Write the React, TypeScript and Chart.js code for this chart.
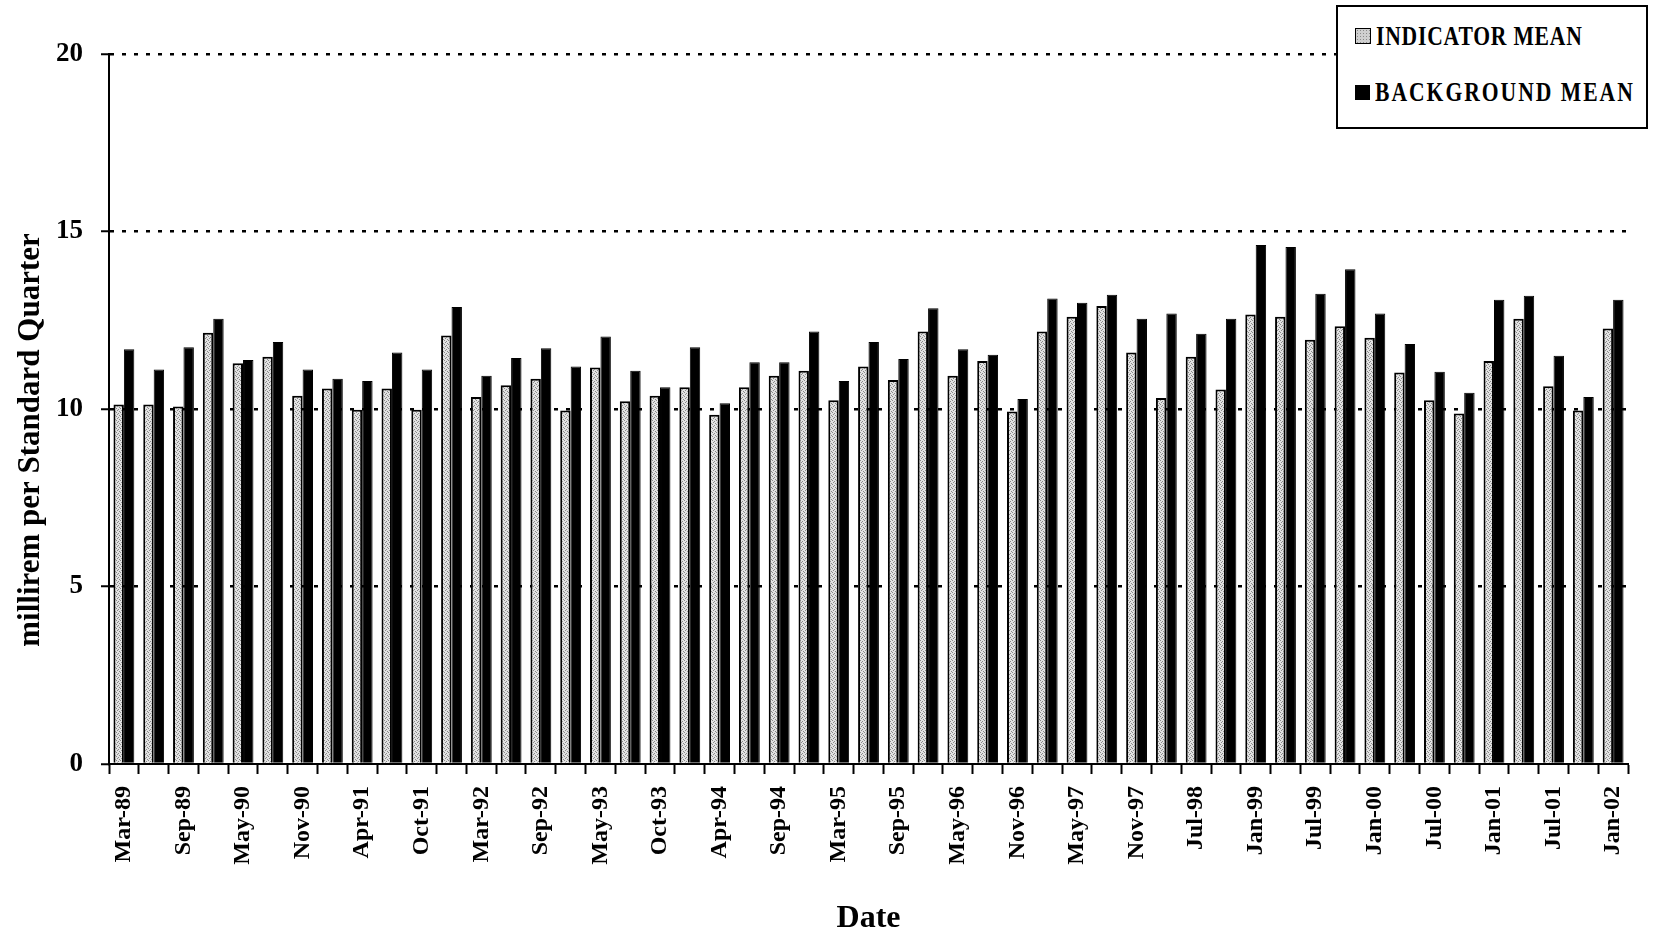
import React, { useEffect, useRef } from "react";
import { Chart, registerables } from "chart.js";

Chart.register(...registerables);

const labels = [
  "Mar-89", "Jun-89", "Sep-89", "Jan-90", "May-90", "Aug-90", "Nov-90", "Feb-91", "Apr-91", "Jul-91",
  "Oct-91", "Jan-92", "Mar-92", "Jun-92", "Sep-92", "Jan-93", "May-93", "Aug-93", "Oct-93", "Jan-94",
  "Apr-94", "Jul-94", "Sep-94", "Dec-94", "Mar-95", "Jun-95", "Sep-95", "Jan-96", "May-96", "Aug-96",
  "Nov-96", "Feb-97", "May-97", "Aug-97", "Nov-97", "Mar-98", "Jul-98", "Oct-98", "Jan-99", "Apr-99",
  "Jul-99", "Oct-99", "Jan-00", "Apr-00", "Jul-00", "Oct-00", "Jan-01", "Apr-01", "Jul-01", "Oct-01",
  "Jan-02",
];

const indicatorMean = [
  10.13, 10.13, 10.07, 12.15, 11.29, 11.47, 10.37, 10.58, 9.98, 10.58,
  9.98, 12.07, 10.34, 10.67, 10.85, 9.96, 11.17, 10.22, 10.37, 10.61,
  9.84, 10.61, 10.94, 11.08, 10.25, 11.2, 10.82, 12.18, 10.94, 11.35,
  9.93, 12.18, 12.6, 12.9, 11.59, 10.31, 11.47, 10.55, 12.66, 12.6,
  11.95, 12.33, 12.01, 11.03, 10.25, 9.87, 11.35, 12.54, 10.64, 9.96,
  12.27,
];

const backgroundMean = [
  11.68, 11.11, 11.74, 12.54, 11.38, 11.89, 11.11, 10.85, 10.79, 11.59,
  11.11, 12.87, 10.94, 11.44, 11.71, 11.2, 12.04, 11.08, 10.61, 11.74,
  10.16, 11.32, 11.32, 12.18, 10.79, 11.89, 11.41, 12.84, 11.68, 11.53,
  10.28, 13.11, 12.99, 13.22, 12.54, 12.69, 12.12, 12.54, 14.62, 14.56,
  13.25, 13.94, 12.69, 11.83, 11.05, 10.46, 13.08, 13.19, 11.5, 10.34,
  13.08,
];

const yTicks = [0, 5, 10, 15, 20];

const seriesNames = ["INDICATOR MEAN", "BACKGROUND MEAN"];

const FONT = "'Liberation Serif', 'Times New Roman', serif";

export default function App() {
  const canvasRef = useRef<HTMLCanvasElement | null>(null);

  useEffect(() => {
    const canvas = canvasRef.current;
    if (!canvas) return;
    const ctx = canvas.getContext("2d")!;

    const pc = document.createElement("canvas");
    pc.width = 4;
    pc.height = 4;
    const p = pc.getContext("2d")!;
    p.fillStyle = "#e2e2e2";
    p.fillRect(0, 0, 4, 4);
    p.fillStyle = "#8a8a8a";
    [[0, 0], [2, 1], [1, 2], [3, 3]].forEach(([x, y]) => p.fillRect(x, y, 1, 1));
    const pattern = ctx.createPattern(pc, "repeat")!;

    const chart = new Chart(ctx, {
      type: "bar",
      data: {
        labels,
        datasets: [
          {
            label: seriesNames[0],
            data: indicatorMean,
            backgroundColor: pattern,
            borderColor: "#000",
            borderWidth: 2,
            categoryPercentage: 0.7,
            barPercentage: 1.0,
          },
          {
            label: seriesNames[1],
            data: backgroundMean,
            backgroundColor: "#000",
            borderColor: "#000",
            borderWidth: 1,
            categoryPercentage: 0.7,
            barPercentage: 1.0,
          },
        ],
      },
      options: {
        responsive: false,
        animation: false,
        devicePixelRatio: 1,
        layout: { padding: { left: 0, right: 9, top: 54, bottom: 0 } },
        plugins: {
          legend: { display: false },
          tooltip: { enabled: false },
        },
        scales: {
          x: {
            offset: true,
            grid: {
              offset: true,
              drawOnChartArea: false,
              drawTicks: true,
              tickLength: 10,
              tickColor: "#000",
              tickWidth: 2,
              tickBorderDash: [],
            },
            border: { display: true, color: "#000", width: 2 },
            ticks: {
              autoSkip: false,
              minRotation: 90,
              maxRotation: 90,
              padding: 12,
              color: "#000",
              font: { family: FONT, size: 24, weight: "bold" },
              callback: (_v: any, i: number) => (i % 2 === 0 ? labels[i] : ""),
            },
            title: {
              display: true,
              text: "Date",
              color: "#000",
              font: { family: FONT, size: 32, weight: "bold" },
              padding: { top: 0, bottom: 0 },
            },
            afterFit: (scale: any) => {
              scale.height = 174;
            },
          },
          y: {
            min: 0,
            max: 20,
            afterBuildTicks: (scale: any) => {
              scale.ticks = yTicks.map((v) => ({ value: v }));
            },
            grid: {
              drawOnChartArea: true,
              color: (c: any) => (c.tick && c.tick.value === 0 ? "rgba(0,0,0,0)" : "#000"),
              lineWidth: 2.5,
              borderDash: [4, 8],
              tickLength: 8,
              tickColor: "#000",
              tickWidth: 2,
              tickBorderDash: [],
            },
            border: { display: true, color: "#000", width: 2, dash: [4, 8] },
            ticks: {
              padding: 18,
              color: "#000",
              font: { family: FONT, size: 27, weight: "bold" },
            },
            title: {
              display: true,
              text: "millirem per Standard Quarter        ",
              color: "#000",
              font: { family: FONT, size: 31, weight: "bold" },
              padding: { top: 12, bottom: 0 },
            },
            afterFit: (scale: any) => {
              scale.width = 109;
            },
          },
        },
      },
    } as any);

    return () => chart.destroy();
  }, []);

  const legendText: React.CSSProperties = {
    fontFamily: FONT,
    fontWeight: "bold",
    fontSize: 27,
    letterSpacing: 1,
    color: "#000",
    lineHeight: "30px",
    whiteSpace: "nowrap",
    display: "inline-block",
    transform: "scaleX(0.8)",
    transformOrigin: "left center",
  };

  return (
    <div style={{ position: "fixed", left: 0, top: 0, width: 1654, height: 938, background: "#fff" }}>
      <canvas ref={canvasRef} width={1654} height={938} style={{ display: "block" }} />
      <div
        style={{
          position: "absolute",
          left: 1336,
          top: 5,
          width: 308,
          height: 120,
          border: "2px solid #000",
          background: "#fff",
          boxSizing: "content-box",
        }}
      >
        <div style={{ position: "absolute", left: 17, top: 14, display: "flex", alignItems: "center" }}>
          <span
            style={{
              display: "inline-block",
              width: 14,
              height: 14,
              border: "1px solid #000",
              backgroundColor: "#cfcfcf",
              backgroundImage: "radial-gradient(#8a8a8a 0.8px, transparent 1px)",
              backgroundSize: "3px 3px",
              marginRight: 5,
            }}
          />
          <span style={legendText}>{seriesNames[0]}</span>
        </div>
        <div style={{ position: "absolute", left: 17, top: 70, display: "flex", alignItems: "center" }}>
          <span
            style={{
              display: "inline-block",
              width: 15,
              height: 15,
              background: "#000",
              marginRight: 5,
            }}
          />
          <span style={{ ...legendText, letterSpacing: 2.5 }}>{seriesNames[1]}</span>
        </div>
      </div>
    </div>
  );
}
